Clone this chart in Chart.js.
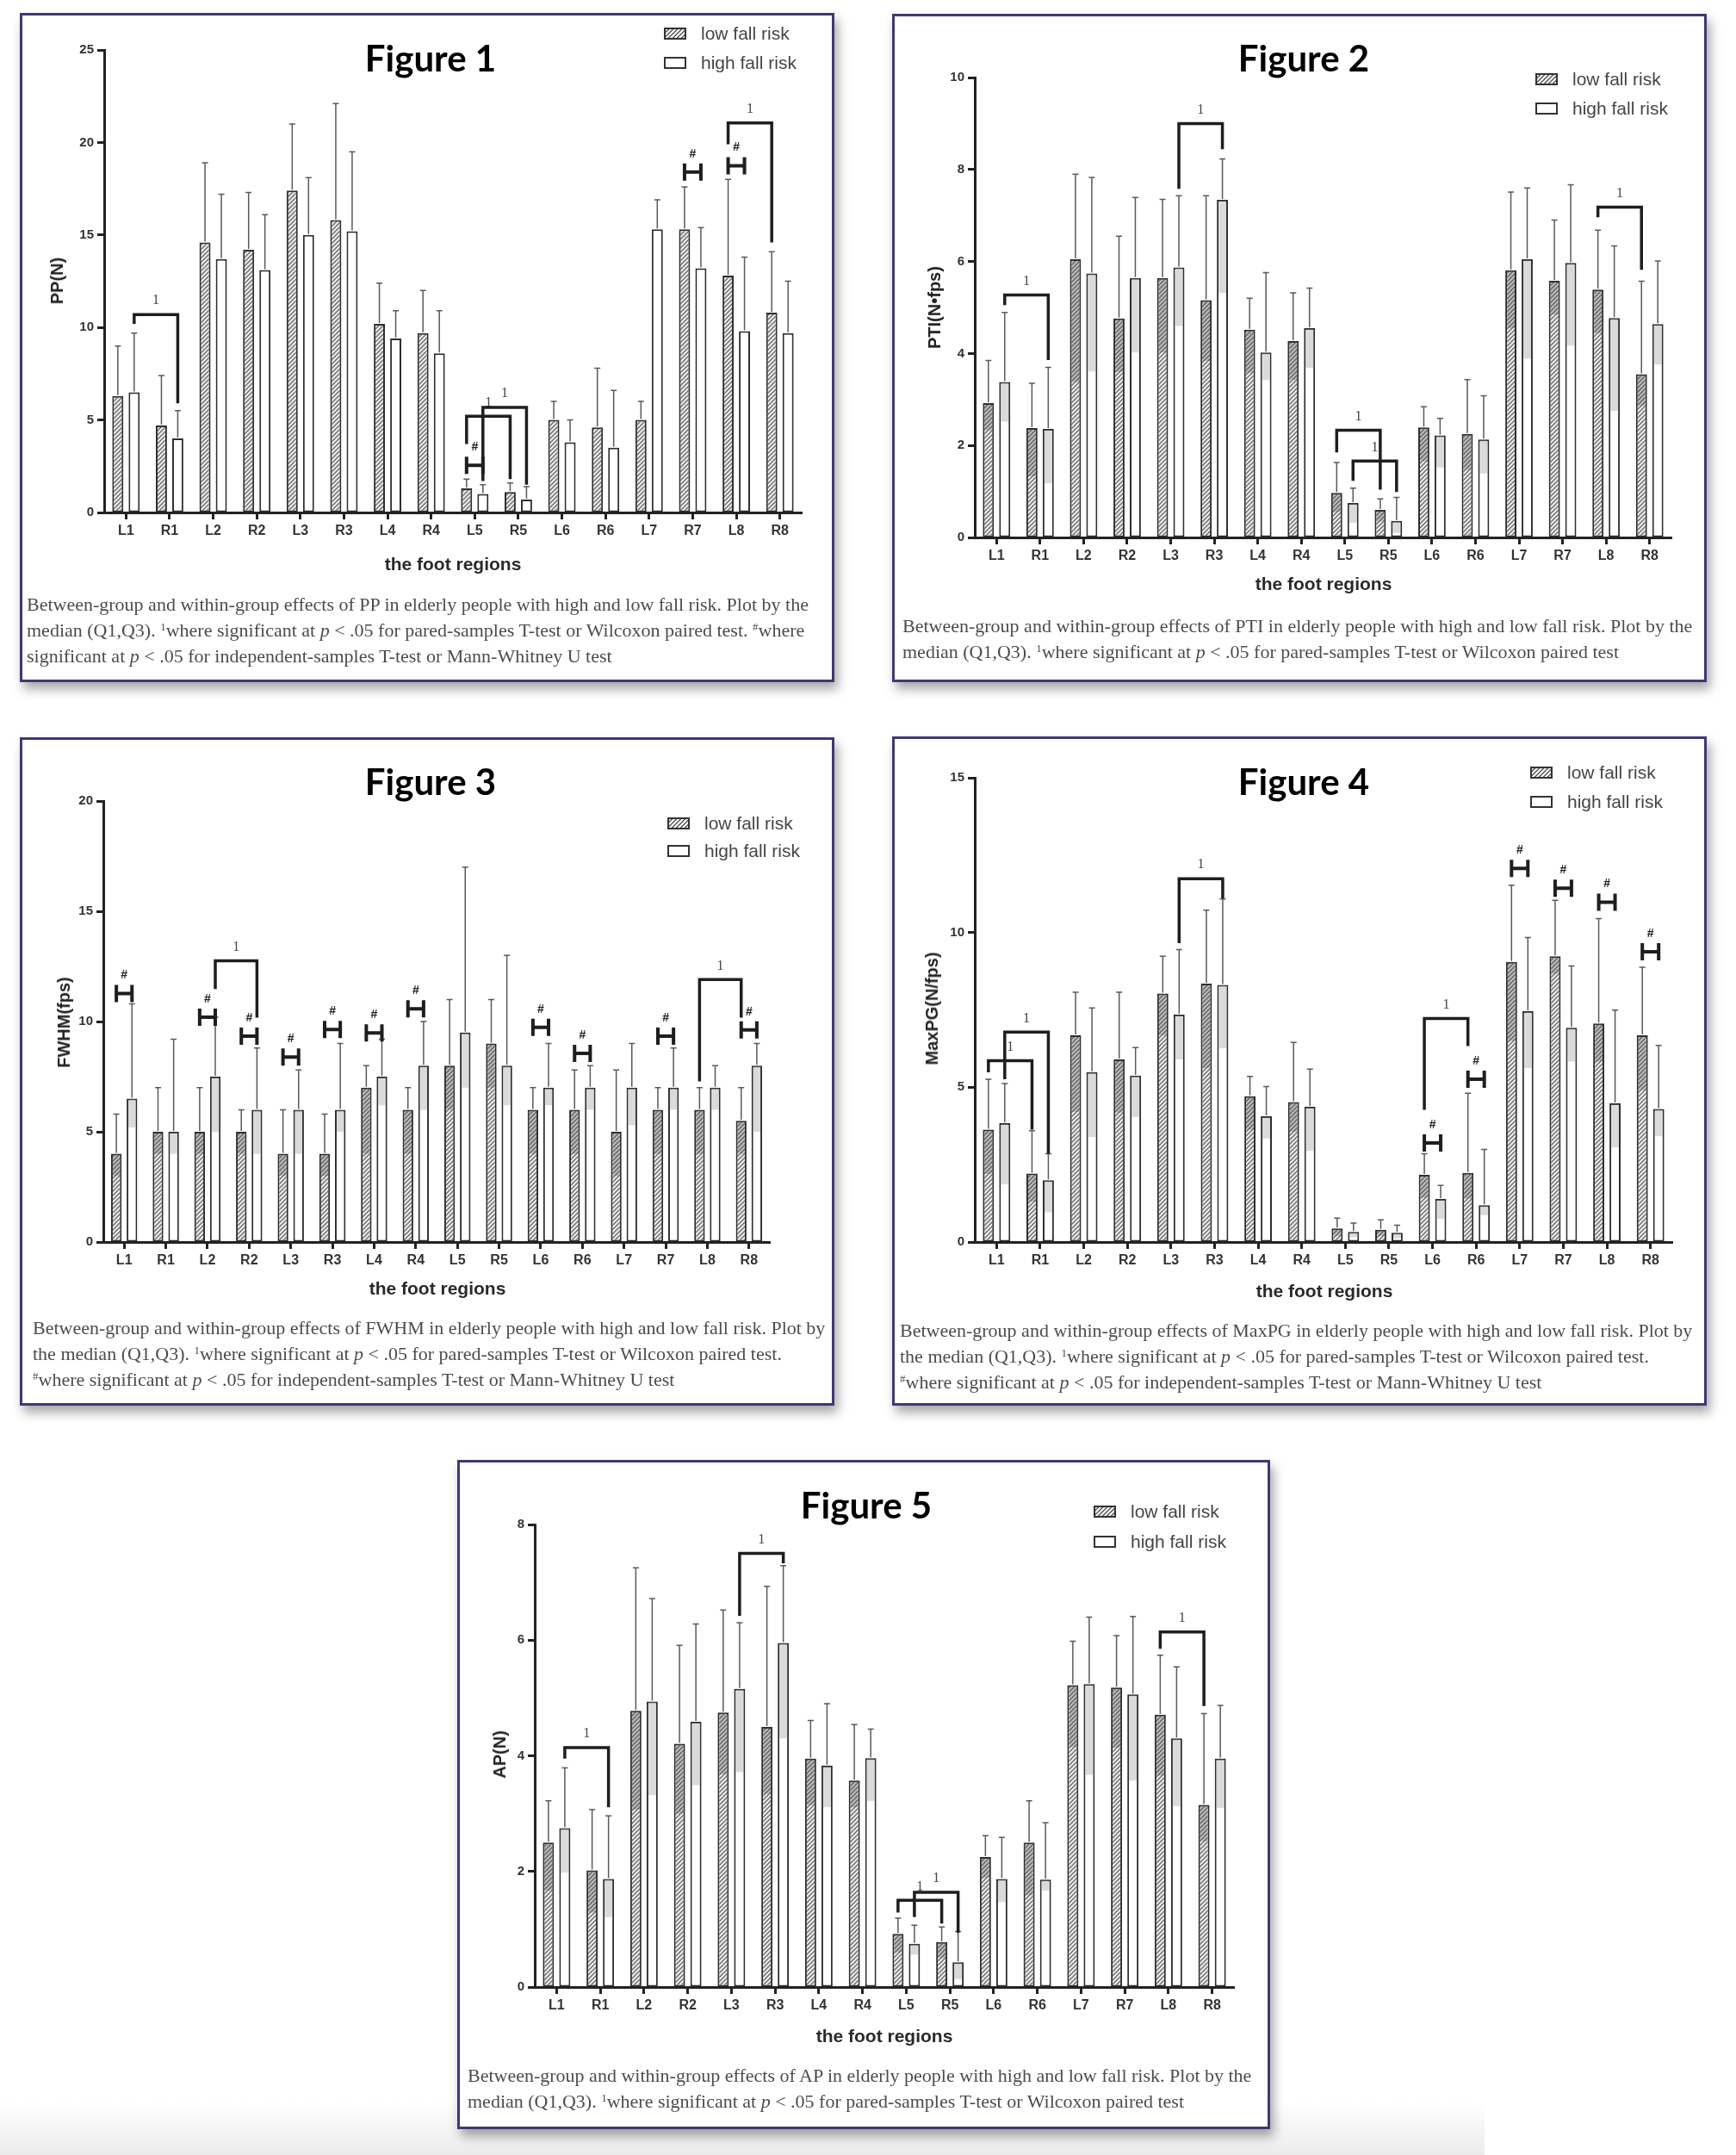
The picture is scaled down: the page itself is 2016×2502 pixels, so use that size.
<!DOCTYPE html>
<html><head><meta charset="utf-8">
<script src="https://cdn.jsdelivr.net/npm/chart.js@4.4.1/dist/chart.umd.min.js"></script>
<style>
html,body{margin:0;padding:0;background:#fff;}
body{width:2016px;height:2502px;overflow:hidden;position:relative;font-family:'Liberation Sans',Arial,sans-serif;}
.panel{position:absolute;box-sizing:border-box;border:3px solid #3f3873;background:#fff;box-shadow:4px 8px 12px rgba(0,0,0,0.35);}
.abs{position:absolute;white-space:nowrap;}
.ftitle{font-family:Lato,'Open Sans',sans-serif;font-weight:700;font-size:42px;color:#000;transform:translate(-50%,-50%);line-height:1;}
.ytitle{font-weight:700;font-size:20px;color:#222;transform:translate(-50%,-50%) rotate(-90deg);line-height:1;}
.xtitle{font-weight:700;font-size:21px;color:#2a2a2a;transform:translate(-50%,-50%);line-height:1;}
.leg{font-size:21px;color:#444;line-height:1;}
.legbox{position:absolute;box-sizing:border-box;width:26px;height:14px;border:2px solid #333;background:#fff;}
.legbox.h{background:repeating-linear-gradient(135deg,#f0f0f0 0 2px,#666 2px 3.5px);}
.cap{font-family:'Liberation Serif','Times New Roman',serif;font-size:22px;line-height:30px;color:#4c4c4c;}
.cap sup{font-size:13px;vertical-align:7px;line-height:0;}
canvas{position:absolute;}
.strip{position:absolute;left:0;top:2440px;width:1724px;height:62px;background:linear-gradient(to bottom,rgba(235,235,235,0),#ebebeb);}
</style>
</head><body>
<div class="strip"></div>
<script>
// ---------- data ----------
const regions = ['L1','R1','L2','R2','L3','R3','L4','R4','L5','R5','L6','R6','L7','R7','L8','R8'];
const seriesNames = ['low fall risk','high fall risk'];

// Figure 1 : PP(N) median and Q3
const ppLow    = [6.3,4.7,14.6,14.2,17.4,15.8,10.2,9.7,1.3,1.1,5.0,4.6,5.0,15.3,12.8,10.8];
const ppHigh   = [6.5,4.0,13.7,13.1,15.0,15.2,9.4,8.6,1.0,0.7,3.8,3.5,15.3,13.2,9.8,9.7];
const ppLowQ3  = [9.0,7.4,18.9,17.3,21.0,22.1,12.4,12.0,1.8,1.6,6.0,7.8,6.0,17.6,18.0,14.1];
const ppHighQ3 = [9.7,5.5,17.2,16.1,18.1,19.5,10.9,10.9,1.5,1.4,5.0,6.6,16.9,15.4,13.8,12.5];

// Figure 2 : PTI(N·fps) median, Q1, Q3
const ptiLow    = [2.92,2.38,6.05,4.76,5.64,5.16,4.52,4.27,0.97,0.60,2.39,2.25,5.81,5.58,5.39,3.55];
const ptiHigh   = [3.38,2.36,5.74,5.64,5.87,7.34,4.02,4.55,0.75,0.36,2.22,2.13,6.05,5.97,4.77,4.64];
const ptiLowQ1  = [2.33,1.33,3.38,3.60,4.02,3.84,3.58,3.42,0.55,0.35,1.66,1.47,4.55,4.85,4.44,2.86];
const ptiHighQ1 = [2.52,1.18,3.61,4.02,4.60,5.32,3.42,3.69,0.32,0.10,1.52,1.39,3.89,4.17,2.75,3.76];
const ptiLowQ3  = [3.85,3.35,7.90,6.55,7.35,7.43,5.20,5.32,1.63,0.84,2.84,3.43,7.51,6.90,6.68,5.57];
const ptiHighQ3 = [4.89,3.70,7.83,7.39,7.43,8.23,5.76,5.42,1.07,0.87,2.59,3.08,7.60,7.67,6.34,6.01];

// Figure 3 : FWHM(fps)
const fwhmLow    = [4,5,5,5,4,4,7,6,8,9,6,6,5,6,6,5.5];
const fwhmHigh   = [6.5,5,7.5,6,6,6,7.5,8,9.5,8,7,7,7,7,7,8];
const fwhmLowQ1  = [3,4,4,4,3,3,4,4,6,7,4,4,3,4,4,4];
const fwhmHighQ1 = [5.2,4,5,4,4,5,6.2,6,7,6.2,6.2,6,5.3,6,6,5];
const fwhmLowQ3  = [5.8,7,7,6,6,5.8,8,7,11,11,7,7.8,7.8,7,7,7];
const fwhmHighQ3 = [10.8,9.2,10.2,8.8,7.8,9,9.2,10,17,13,9,8,9,8.8,8,9];

// Figure 4 : MaxPG(N/fps)
const mpgLow    = [3.63,2.21,6.68,5.90,8.03,8.35,4.71,4.52,0.44,0.40,2.17,2.23,9.05,9.23,7.06,6.68];
const mpgHigh   = [3.84,2.00,5.49,5.38,7.35,8.31,4.06,4.37,0.33,0.30,1.39,1.19,7.46,6.92,4.48,4.30];
const mpgLowQ1  = [2.20,1.30,4.20,4.18,6.68,5.62,3.63,3.56,0.20,0.20,1.43,1.40,6.50,8.67,5.83,4.91];
const mpgHighQ1 = [1.86,0.96,3.39,4.04,5.90,6.26,3.35,2.95,0.15,0.12,0.75,0.87,5.62,5.83,3.06,3.42];
const mpgLowQ3  = [5.26,3.60,8.07,8.07,9.23,10.72,5.35,6.45,0.77,0.72,2.85,4.81,11.53,11.04,10.45,8.88];
const mpgHighQ3 = [5.12,2.85,7.56,6.28,9.45,11.08,5.02,5.59,0.61,0.54,1.83,2.99,9.84,8.92,7.49,6.35];

// Figure 5 : AP(N)
const apLow    = [2.50,2.02,4.78,4.21,4.75,4.50,3.95,3.57,0.92,0.78,2.25,2.50,5.22,5.18,4.71,3.15];
const apHigh   = [2.75,1.87,4.94,4.59,5.16,5.95,3.83,3.96,0.75,0.43,1.87,1.86,5.24,5.06,4.30,3.95];
const apLowQ1  = [1.67,1.29,3.07,3.00,3.68,3.34,3.15,3.11,0.60,0.50,1.89,1.59,4.15,4.14,3.66,2.52];
const apHighQ1 = [1.98,1.21,3.32,3.49,3.72,4.30,3.11,3.22,0.56,0.14,1.47,1.67,3.67,3.57,3.13,3.10];
const apLowQ3  = [3.22,3.07,7.25,5.91,6.52,6.93,4.61,4.54,1.19,1.04,2.62,3.22,5.98,6.08,5.74,4.73];
const apHighQ3 = [3.79,2.96,6.72,6.28,6.30,7.29,4.90,4.46,1.07,0.96,2.59,2.84,6.40,6.41,5.54,4.87];

// significance marks: bracket = [regionA, seriesA, regionB, seriesB, level, legEndA, legEndB]; hash = [region, level]
const ppBrackets   = [[0,1,1,1,10.7,10.2,5.9],[8,0,9,0,5.2,3.7,1.8],[8,1,9,1,5.68,1.7,1.5],[14,0,15,0,21.05,19.9,14.6]];
const ppHashes     = [[8,2.55],[13,18.4],[14,18.74]];
const ptiBrackets  = [[0,1,1,1,5.27,5.05,3.86],[4,1,5,1,9.0,7.58,8.44],[8,0,9,0,2.33,1.85,1.04],[8,1,9,1,1.66,1.23,0.99],[14,0,15,0,7.18,6.96,5.82]];
const ptiHashes    = [];
const fwhmBrackets = [[2,1,3,1,12.75,11.47,10.18],[14,0,15,0,11.9,7.29,10.18]];
const fwhmHashes   = [[0,11.27],[2,10.2],[3,9.34],[4,8.39],[5,9.64],[6,9.48],[7,10.58],[10,9.74],[11,8.55],[13,9.34],[15,9.62]];
const mpgBrackets  = [[0,1,1,1,6.78,5.26,2.85],[0,0,1,0,5.86,5.48,3.63],[4,1,5,1,11.74,9.66,11.1],[10,0,11,0,7.22,4.27,6.33]];
const mpgHashes    = [[10,3.2],[11,5.26],[12,12.07],[13,11.43],[14,10.98],[15,9.38]];
const apBrackets   = [[0,1,1,1,4.14,3.95,3.11],[4,1,5,1,7.5,6.42,7.33],[8,0,9,0,1.5,1.29,1.1],[8,1,9,1,1.64,1.21,0.94],[14,0,15,0,6.14,5.85,4.86]];
const apHashes     = [];

const cap1 = 'where significant at <i>p</i> &lt; .05 for pared-samples T-test or Wilcoxon paired test';
const cap2 = 'where significant at <i>p</i> &lt; .05 for independent-samples T-test or Mann-Whitney U test';

// ---------- layout (page pixels) ----------
const figs = [
 {title:'Figure 1', panel:[23,15,969,792], area:[121,58,931,595], yMax:25, step:5,
  titlePos:[500,67], yTitle:'PP(N)', yTitlePos:[66,326], xTitlePos:[526,654], legend:[771,39,73],
  capPos:[31,687], caption:'Between-group and within-group effects of PP in elderly people with high and low fall risk. Plot by the<br>median (Q1,Q3). <sup>1</sup>'+cap1+'. <sup>#</sup>where<br>significant at <i>p</i> &lt; .05 for independent-samples T-test or Mann-Whitney U test',
  low:ppLow, high:ppHigh, lowQ1:null, highQ1:null, lowQ3:ppLowQ3, highQ3:ppHighQ3, brackets:ppBrackets, hashes:ppHashes},
 {title:'Figure 2', panel:[1036,16,1982,792], area:[1132,90,1941,624], yMax:10, step:2,
  titlePos:[1514,67], yTitle:'PTI(N•fps)', yTitlePos:[1085,357], xTitlePos:[1537,677], legend:[1783,92,126],
  capPos:[1048,712], caption:'Between-group and within-group effects of PTI in elderly people with high and low fall risk. Plot by the<br>median (Q1,Q3). <sup>1</sup>'+cap1,
  low:ptiLow, high:ptiHigh, lowQ1:ptiLowQ1, highQ1:ptiHighQ1, lowQ3:ptiLowQ3, highQ3:ptiHighQ3, brackets:ptiBrackets, hashes:ptiHashes},
 {title:'Figure 3', panel:[23,856,969,1632], area:[120,930,894,1442], yMax:20, step:5,
  titlePos:[500,907], yTitle:'FWHM(fps)', yTitlePos:[74,1187], xTitlePos:[508,1495], legend:[775,956,988],
  capPos:[38,1527], caption:'Between-group and within-group effects of FWHM in elderly people with high and low fall risk. Plot by<br>the median (Q1,Q3). <sup>1</sup>'+cap1+'.<br><sup>#</sup>'+cap2,
  low:fwhmLow, high:fwhmHigh, lowQ1:fwhmLowQ1, highQ1:fwhmHighQ1, lowQ3:fwhmLowQ3, highQ3:fwhmHighQ3, brackets:fwhmBrackets, hashes:fwhmHashes},
 {title:'Figure 4', panel:[1036,855,1982,1632], area:[1132,903,1942,1442], yMax:15, step:5,
  titlePos:[1514,907], yTitle:'MaxPG(N/fps)', yTitlePos:[1082,1171], xTitlePos:[1538,1498], legend:[1777,897,931],
  capPos:[1045,1530], caption:'Between-group and within-group effects of MaxPG in elderly people with high and low fall risk. Plot by<br>the median (Q1,Q3). <sup>1</sup>'+cap1+'.<br><sup>#</sup>'+cap2,
  low:mpgLow, high:mpgHigh, lowQ1:mpgLowQ1, highQ1:mpgHighQ1, lowQ3:mpgLowQ3, highQ3:mpgHighQ3, brackets:mpgBrackets, hashes:mpgHashes},
 {title:'Figure 5', panel:[531,1695,1475,2472], area:[621,1770,1433,2307], yMax:8, step:2,
  titlePos:[1006,1747], yTitle:'AP(N)', yTitlePos:[580,2037], xTitlePos:[1027,2363], legend:[1270,1755,1790],
  capPos:[543,2395], caption:'Between-group and within-group effects of AP in elderly people with high and low fall risk. Plot by the<br>median (Q1,Q3). <sup>1</sup>'+cap1,
  low:apLow, high:apHigh, lowQ1:apLowQ1, highQ1:apHighQ1, lowQ3:apLowQ3, highQ3:apHighQ3, brackets:apBrackets, hashes:apHashes}
];

function makeHatch(){
  const c=document.createElement('canvas'); c.width=5; c.height=5;
  const g=c.getContext('2d');
  g.fillStyle='#eeeeee'; g.fillRect(0,0,5,5);
  g.strokeStyle='#6e6e6e'; g.lineWidth=1.5;
  g.beginPath(); g.moveTo(0,5); g.lineTo(5,0); g.moveTo(-1,1); g.lineTo(1,-1); g.moveTo(4,6); g.lineTo(6,4); g.stroke();
  return g.createPattern(c,'repeat');
}

const marksPlugin = {
  id:'marks',
  afterDatasetsDraw(chart){
    const f = chart.options.plugins.marks.fig;
    const ctx = chart.ctx, ys = chart.scales.y;
    const metas = [chart.getDatasetMeta(0), chart.getDatasetMeta(1)];
    const q1s = [f.lowQ1, f.highQ1], q3s = [f.lowQ3, f.highQ3], meds = [f.low, f.high];
    ctx.save();
    for (let d=0; d<2; d++){
      metas[d].data.forEach((bar,i)=>{
        const x=bar.x, hw=bar.width/2;
        const ym=ys.getPixelForValue(meds[d][i]);
        if (q1s[d]){
          const yq=ys.getPixelForValue(q1s[d][i]);
          ctx.fillStyle = d===0 ? 'rgba(70,70,70,0.28)' : 'rgba(150,150,150,0.35)';
          ctx.fillRect(x-hw+2, ym+1, 2*hw-4, yq-ym-1);
        }
        const yt=ys.getPixelForValue(q3s[d][i]);
        ctx.strokeStyle='#5a5a5a'; ctx.lineWidth=1.5;
        ctx.beginPath(); ctx.moveTo(x,ym-1); ctx.lineTo(x,yt); ctx.moveTo(x-3.5,yt); ctx.lineTo(x+3.5,yt); ctx.stroke();
      });
    }
    // brackets
    ctx.strokeStyle='#1e1e1e'; ctx.lineWidth=3.5; ctx.lineJoin='miter'; ctx.lineCap='butt';
    f.brackets.forEach(b=>{
      const xa=metas[b[1]].data[b[0]].x, xb=metas[b[3]].data[b[2]].x;
      const y=ys.getPixelForValue(b[4]);
      ctx.beginPath();
      ctx.moveTo(xa, ys.getPixelForValue(b[5])); ctx.lineTo(xa,y); ctx.lineTo(xb,y); ctx.lineTo(xb, ys.getPixelForValue(b[6]));
      ctx.stroke();
      ctx.fillStyle='#444'; ctx.font='16px "Liberation Serif", serif'; ctx.textAlign='center'; ctx.textBaseline='middle';
      ctx.fillText('1',(xa+xb)/2,y-16);
    });
    // hash markers
    f.hashes.forEach(h=>{
      const xa=metas[0].data[h[0]].x, xb=metas[1].data[h[0]].x;
      const y=ys.getPixelForValue(h[1]);
      ctx.lineWidth=4; ctx.strokeStyle='#1e1e1e';
      ctx.beginPath();
      ctx.moveTo(xa,y-10); ctx.lineTo(xa,y+10);
      ctx.moveTo(xb,y-10); ctx.lineTo(xb,y+10);
      ctx.moveTo(xa,y); ctx.lineTo(xb,y);
      ctx.stroke();
      ctx.fillStyle='#222'; ctx.font='bold 14px "Liberation Sans", Arial'; ctx.textAlign='center'; ctx.textBaseline='middle';
      ctx.fillText('#',(xa+xb)/2,y-21);
    });
    ctx.restore();
  }
};

function addText(cls, html, x, y){
  const d=document.createElement('div'); d.className='abs '+cls; d.innerHTML=html;
  d.style.left=x+'px'; d.style.top=y+'px'; document.body.appendChild(d); return d;
}

const hatch = makeHatch();
const YW=50, XH=40;
figs.forEach(f=>{
  const [pl,pt,pr,pb]=f.panel, [al,at,ar,ab]=f.area;
  const p=document.createElement('div'); p.className='panel';
  p.style.left=pl+'px'; p.style.top=pt+'px'; p.style.width=(pr-pl)+'px'; p.style.height=(pb-pt)+'px';
  document.body.appendChild(p);
  const cv=document.createElement('canvas');
  cv.width=pr-pl; cv.height=pb-pt; cv.style.left=pl+'px'; cv.style.top=pt+'px';
  document.body.appendChild(cv);
  addText('ftitle', f.title, f.titlePos[0], f.titlePos[1]);
  addText('ytitle', f.yTitle, f.yTitlePos[0], f.yTitlePos[1]);
  addText('xtitle', 'the foot regions', f.xTitlePos[0], f.xTitlePos[1]);
  const [lx,r1,r2]=f.legend;
  [r1,r2].forEach((ry,k)=>{
    const b=document.createElement('div'); b.className='legbox'+(k===0?' h':'');
    b.style.left=lx+'px'; b.style.top=(ry-7)+'px'; document.body.appendChild(b);
    addText('leg', seriesNames[k], lx+43, ry-11);
  });
  addText('cap', f.caption, f.capPos[0], f.capPos[1]);

  new Chart(cv.getContext('2d'), {
    type:'bar',
    data:{ labels:regions, datasets:[
      {label:seriesNames[0], data:f.low, backgroundColor:hatch, borderColor:'#2e2e2e', borderWidth:2, borderSkipped:false},
      {label:seriesNames[1], data:f.high, backgroundColor:'#ffffff', borderColor:'#2e2e2e', borderWidth:2, borderSkipped:false}
    ]},
    options:{
      responsive:false, animation:false, devicePixelRatio:1,
      categoryPercentage:0.75, barPercentage:0.68,
      layout:{autoPadding:false, padding:{left:al-pl-YW, top:at-pt, right:pr-ar, bottom:pb-ab-XH}},
      plugins:{legend:{display:false}, tooltip:{enabled:false}, marks:{fig:f}},
      scales:{
        x:{ offset:true, afterFit(s){s.height=XH;},
            grid:{display:true, drawOnChartArea:false, drawTicks:true, tickLength:8, tickWidth:3, tickColor:'#222', offset:false},
            border:{display:true, width:3, color:'#222'},
            ticks:{color:'#333', font:{family:'Liberation Sans', weight:'bold', size:16}, padding:4, maxRotation:0, autoSkip:false}},
        y:{ min:0, max:f.yMax, afterFit(s){s.width=YW;},
            grid:{display:true, drawOnChartArea:false, drawTicks:true, tickLength:8, tickWidth:3, tickColor:'#222'},
            border:{display:true, width:3, color:'#222'},
            ticks:{stepSize:f.step, color:'#333', font:{family:'Liberation Sans', weight:'bold', size:15}, padding:4}}
      }
    },
    plugins:[marksPlugin]
  });
});
</script>
</body></html>
